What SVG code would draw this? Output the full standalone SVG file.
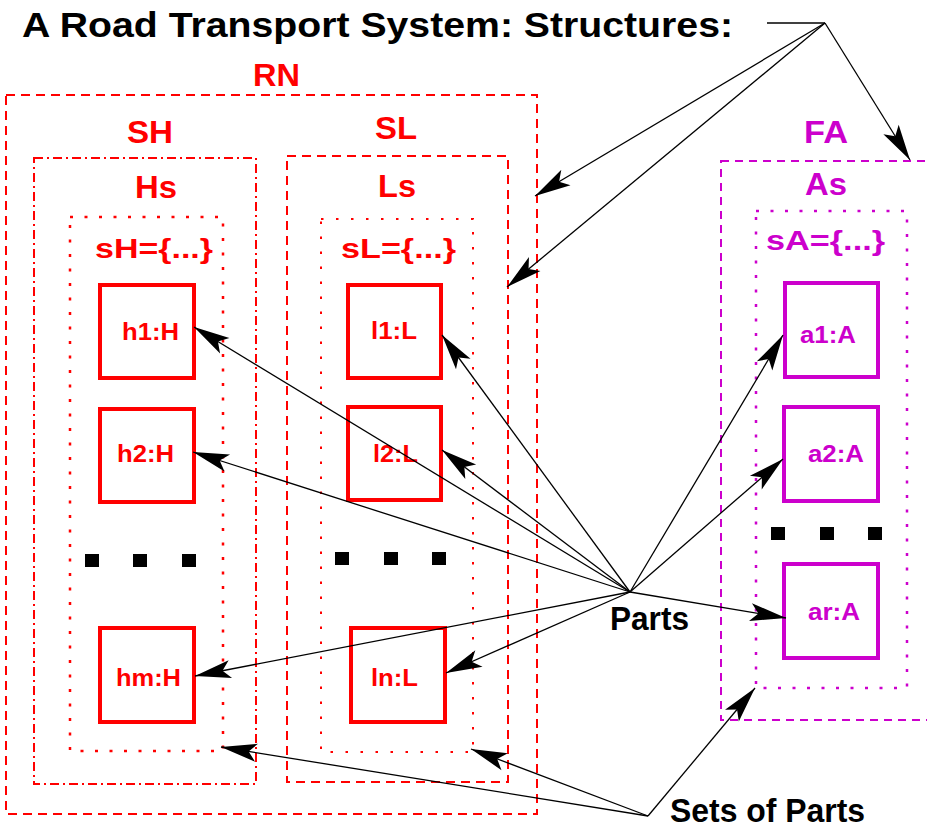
<svg xmlns="http://www.w3.org/2000/svg" width="927" height="830" viewBox="0 0 927 830">
  <style>
    .t { font-family: "Liberation Sans", Arial, Helvetica, sans-serif; font-weight: bold; }
    .title { font-size: 35px; fill: #000; }
    .lblR { font-size: 32px; fill: #ff0000; }
    .lblM { font-size: 32px; fill: #cc00cc; }
    .setR { font-size: 28px; fill: #ff0000; }
    .setM { font-size: 28px; fill: #cc00cc; }
    .elR { font-size: 23px; fill: #ff0000; }
    .elM { font-size: 23px; fill: #cc00cc; }
    .note { font-size: 34px; fill: #000; }
    .dashR { fill: none; stroke: #ff0000; stroke-width: 2; stroke-dasharray: 9 6; }
    .dashdotR { fill: none; stroke: #ff0000; stroke-width: 2; stroke-dasharray: 9 4 2 4; }
    .dotR { fill: none; stroke: #ff0000; stroke-width: 2.5; stroke-dasharray: 3 11.5; }
    .dotR2 { fill: none; stroke: #ff0000; stroke-width: 2; stroke-dasharray: 2.5 12.5; }
    .dashM { fill: none; stroke: #cc00cc; stroke-width: 2; stroke-dasharray: 8 6; }
    .dotM { fill: none; stroke: #cc00cc; stroke-width: 2.5; stroke-dasharray: 3 11.5; }
    .boxR { fill: #fff; stroke: #ff0000; stroke-width: 4; }
    .boxM { fill: #fff; stroke: #cc00cc; stroke-width: 4; }
    .con { fill: none; stroke: #000; stroke-width: 1.3; }
    .arr { marker-end: url(#ah); }
  </style>
  <defs>
    <marker id="ah" viewBox="-37 -10 38 20" refX="0" refY="0" markerWidth="38" markerHeight="20" markerUnits="userSpaceOnUse" orient="auto">
      <path d="M0,0 L-36,-9 L-28,0 L-36,9 Z" fill="#000"/>
    </marker>
  </defs>

  <text class="t title" x="22" y="37" textLength="711" lengthAdjust="spacingAndGlyphs">A Road Transport System: Structures:</text>

  <!-- road net -->
  <g id="RN">
    <rect class="dashR" x="6" y="95" width="531" height="719"/>
    <text class="t lblR" x="253" y="86" textLength="47" lengthAdjust="spacingAndGlyphs">RN</text>
  </g>

  <!-- hubs -->
  <g id="SH">
    <rect class="dashdotR" x="34" y="158" width="222" height="626"/>
    <text class="t lblR" x="127" y="143" textLength="46" lengthAdjust="spacingAndGlyphs">SH</text>
    <text class="t lblR" x="135" y="198" textLength="42" lengthAdjust="spacingAndGlyphs">Hs</text>
  </g>
  <g id="sH">
    <rect class="dotR" x="70" y="217" width="153" height="534"/>
    <text class="t setR" x="95" y="258" textLength="118" lengthAdjust="spacingAndGlyphs">sH={...}</text>
    <rect x="85" y="554" width="14" height="13"/>
    <rect x="133" y="554" width="14" height="13"/>
    <rect x="182" y="554" width="14" height="13"/>
  </g>
  <g id="h1">
    <rect class="boxR" x="100" y="285" width="94" height="93"/>
    <text class="t elR" x="122" y="340" textLength="57" lengthAdjust="spacingAndGlyphs">h1:H</text>
  </g>
  <g id="h2">
    <rect class="boxR" x="100" y="409" width="94" height="93"/>
    <text class="t elR" x="117" y="462" textLength="57" lengthAdjust="spacingAndGlyphs">h2:H</text>
  </g>
  <g id="hm">
    <rect class="boxR" x="100" y="628" width="94" height="94"/>
    <text class="t elR" x="116" y="686" textLength="65" lengthAdjust="spacingAndGlyphs">hm:H</text>
  </g>

  <!-- links -->
  <g id="SL">
    <rect class="dashR" x="287" y="156" width="221" height="626"/>
    <text class="t lblR" x="375" y="139" textLength="42" lengthAdjust="spacingAndGlyphs">SL</text>
    <text class="t lblR" x="378" y="197" textLength="38" lengthAdjust="spacingAndGlyphs">Ls</text>
  </g>
  <g id="sL">
    <rect class="dotR2" x="321" y="219" width="152" height="533"/>
    <text class="t setR" x="341" y="258" textLength="115" lengthAdjust="spacingAndGlyphs">sL={...}</text>
    <rect x="335" y="552" width="14" height="13"/>
    <rect x="384" y="552" width="14" height="13"/>
    <rect x="432" y="552" width="14" height="13"/>
  </g>
  <g id="l1">
    <rect class="boxR" x="348" y="285" width="93" height="93"/>
    <text class="t elR" x="371" y="339" textLength="46" lengthAdjust="spacingAndGlyphs">l1:L</text>
  </g>
  <g id="l2">
    <rect class="boxR" x="348" y="407" width="93" height="93"/>
    <text class="t elR" x="373" y="462" textLength="45" lengthAdjust="spacingAndGlyphs">l2:L</text>
  </g>
  <g id="ln">
    <rect class="boxR" x="351" y="628" width="94" height="94"/>
    <text class="t elR" x="371" y="686" textLength="47" lengthAdjust="spacingAndGlyphs">ln:L</text>
  </g>

  <!-- automobiles -->
  <g id="FA">
    <rect class="dashM" x="721" y="161" width="212" height="559"/>
    <text class="t lblM" x="804" y="143" textLength="44" lengthAdjust="spacingAndGlyphs">FA</text>
    <text class="t lblM" x="805" y="195" textLength="42" lengthAdjust="spacingAndGlyphs">As</text>
  </g>
  <g id="sA">
    <rect class="dotM" x="756" y="211" width="151" height="477"/>
    <text class="t setM" x="766" y="250" textLength="119" lengthAdjust="spacingAndGlyphs">sA={...}</text>
    <rect x="771" y="527" width="14" height="13"/>
    <rect x="820" y="527" width="14" height="13"/>
    <rect x="868" y="527" width="14" height="13"/>
  </g>
  <g id="a1">
    <rect class="boxM" x="785" y="283" width="93" height="94"/>
    <text class="t elM" x="800" y="343" textLength="56" lengthAdjust="spacingAndGlyphs">a1:A</text>
  </g>
  <g id="a2">
    <rect class="boxM" x="784" y="407" width="94" height="94"/>
    <text class="t elM" x="808" y="462" textLength="56" lengthAdjust="spacingAndGlyphs">a2:A</text>
  </g>
  <g id="ar">
    <rect class="boxM" x="784" y="564" width="94" height="94"/>
    <text class="t elM" x="808" y="620" textLength="52" lengthAdjust="spacingAndGlyphs">ar:A</text>
  </g>

  <g id="notes">
    <text class="t note" x="610" y="630" textLength="79" lengthAdjust="spacingAndGlyphs">Parts</text>
    <text class="t note" x="670" y="822" textLength="195" lengthAdjust="spacingAndGlyphs">Sets of Parts</text>
  </g>

  <!-- connectors -->
  <g id="connectors">
    <line class="con" x1="767" y1="23" x2="825" y2="23"/>
    <line class="con arr" x1="825" y1="23" x2="535" y2="196"/>
    <line class="con arr" x1="825" y1="23" x2="507" y2="287"/>
    <line class="con arr" x1="825" y1="23" x2="910" y2="160"/>

    <line class="con arr" x1="630" y1="592" x2="194" y2="327"/>
    <line class="con arr" x1="630" y1="592" x2="193" y2="452"/>
    <line class="con arr" x1="630" y1="592" x2="195" y2="676"/>
    <line class="con arr" x1="630" y1="592" x2="442" y2="335"/>
    <line class="con arr" x1="630" y1="592" x2="442" y2="450"/>
    <line class="con arr" x1="630" y1="592" x2="446" y2="673"/>
    <line class="con arr" x1="630" y1="592" x2="783" y2="335"/>
    <line class="con arr" x1="630" y1="592" x2="783" y2="459"/>
    <line class="con arr" x1="630" y1="592" x2="786" y2="618"/>

    <line class="con arr" x1="648" y1="816" x2="221" y2="747"/>
    <line class="con arr" x1="648" y1="816" x2="471" y2="749"/>
    <line class="con arr" x1="648" y1="816" x2="755" y2="688"/>
  </g>
</svg>
